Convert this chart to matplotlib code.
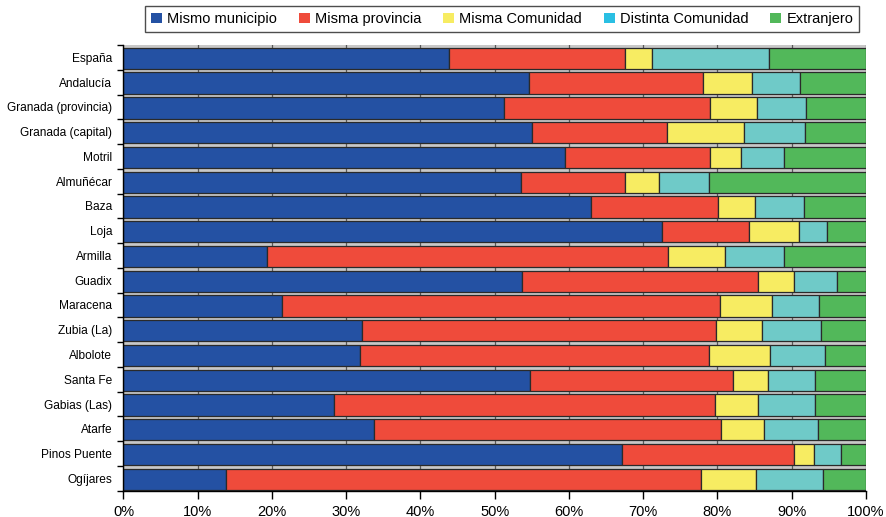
import matplotlib
matplotlib.use("Agg")
import matplotlib.pyplot as plt
from matplotlib.patches import Patch
from matplotlib.ticker import FixedLocator, FuncFormatter
import numpy as np

plt.rcParams['font.family'] = ['Liberation Sans', 'DejaVu Sans']

places = ["España", "Andalucía", "Granada (provincia)", "Granada (capital)", "Motril",
          "Almuñécar", "Baza", "Loja", "Armilla", "Guadix", "Maracena", "Zubia (La)",
          "Albolote", "Santa Fe", "Gabias (Las)", "Atarfe", "Pinos Puente", "Ogíjares"]

series_names = ["Mismo municipio", "Misma provincia", "Misma Comunidad",
                "Distinta Comunidad", "Extranjero"]

mismo_municipio = [43.9, 54.6, 51.2, 55.0, 59.4, 53.6, 62.9, 72.5, 19.3, 53.7,
                   21.4, 32.1, 31.9, 54.8, 28.3, 33.7, 67.1, 13.8]
misma_provincia = [23.7, 23.4, 27.8, 18.2, 19.6, 14.0, 17.2, 11.7, 54.1, 31.8,
                   58.9, 47.7, 46.9, 27.3, 51.3, 46.8, 23.2, 64.0]
misma_comunidad = [3.6, 6.7, 6.3, 10.4, 4.2, 4.5, 4.9, 6.8, 7.6, 4.8,
                   7.1, 6.2, 8.3, 4.7, 5.9, 5.8, 2.7, 7.4]
distinta_comunidad = [15.7, 6.4, 6.6, 8.2, 5.7, 6.8, 6.6, 3.7, 7.9, 5.8,
                      6.3, 8.0, 7.4, 6.4, 7.6, 7.3, 3.7, 9.0]
extranjero = [13.1, 8.9, 8.1, 8.2, 11.1, 21.1, 8.4, 5.3, 11.1, 3.9,
              6.3, 6.0, 5.5, 6.8, 6.9, 6.4, 3.3, 5.8]

x_ticks = list(range(0, 101, 10))

bar_colors = ["#2451A3", "#EF4B3B", "#F7EC62", "#6FCAC8", "#52B85A"]
legend_colors = ["#2451A3", "#EF4B3B", "#F7EC62", "#2ABFE3", "#52B85A"]

fig = plt.figure(figsize=(8.87, 5.17), dpi=100)
ax = fig.add_axes([0.1392, 0.0509, 0.8371, 0.8621])
ax.set_facecolor("#C8C8C8")

data = [mismo_municipio, misma_provincia, misma_comunidad, distinta_comunidad, extranjero]
ypos = np.arange(len(places))
left = np.zeros(len(places))
for vals, col in zip(data, bar_colors):
    vals = np.asarray(vals, dtype=float)
    ax.barh(ypos + 0.04, vals, left=left, height=0.86, color=col,
            edgecolor="#2a2a2a", linewidth=0.9, zorder=3)
    left += vals

ax.set_xlim(0, 100)
ax.set_ylim(len(places) - 0.5, -0.5)

ax.xaxis.set_major_locator(FixedLocator(x_ticks))
ax.xaxis.set_major_formatter(FuncFormatter(lambda v, p: f"{int(v)}%"))
ax.grid(axis="x", color="#5a5a5a", linewidth=0.9, zorder=1)
ax.set_axisbelow(True)

ax.set_yticks(ypos)
ax.set_yticklabels(places, fontsize=8.6)
ax.set_yticks(np.arange(-0.5, len(places) + 0.5, 1.0), minor=True)
ax.tick_params(axis="y", which="major", length=0, pad=8)
ax.tick_params(axis="y", which="minor", length=4, width=1, direction="out", color="black")
ax.tick_params(axis="x", which="major", length=6, width=1, direction="out",
               labelsize=10.5, pad=4, color="black")

for side in ("top", "right"):
    ax.spines[side].set_visible(False)
for side in ("left", "bottom"):
    ax.spines[side].set_color("black")
    ax.spines[side].set_linewidth(1.0)
    ax.spines[side].set_zorder(4)

handles = [Patch(facecolor=c, edgecolor="none", label=n)
           for c, n in zip(legend_colors, series_names)]
leg = fig.legend(handles=handles, loc="center", ncol=5, fontsize=10.5,
                 bbox_to_anchor=(0.566, 0.963), frameon=True, fancybox=False,
                 handlelength=0.75, handleheight=0.75, handletextpad=0.35,
                 columnspacing=1.5, borderpad=0.4, borderaxespad=0.0)
leg.get_frame().set_edgecolor("#222222")
leg.get_frame().set_linewidth(1.0)

fig.savefig("out.png", dpi=100)
